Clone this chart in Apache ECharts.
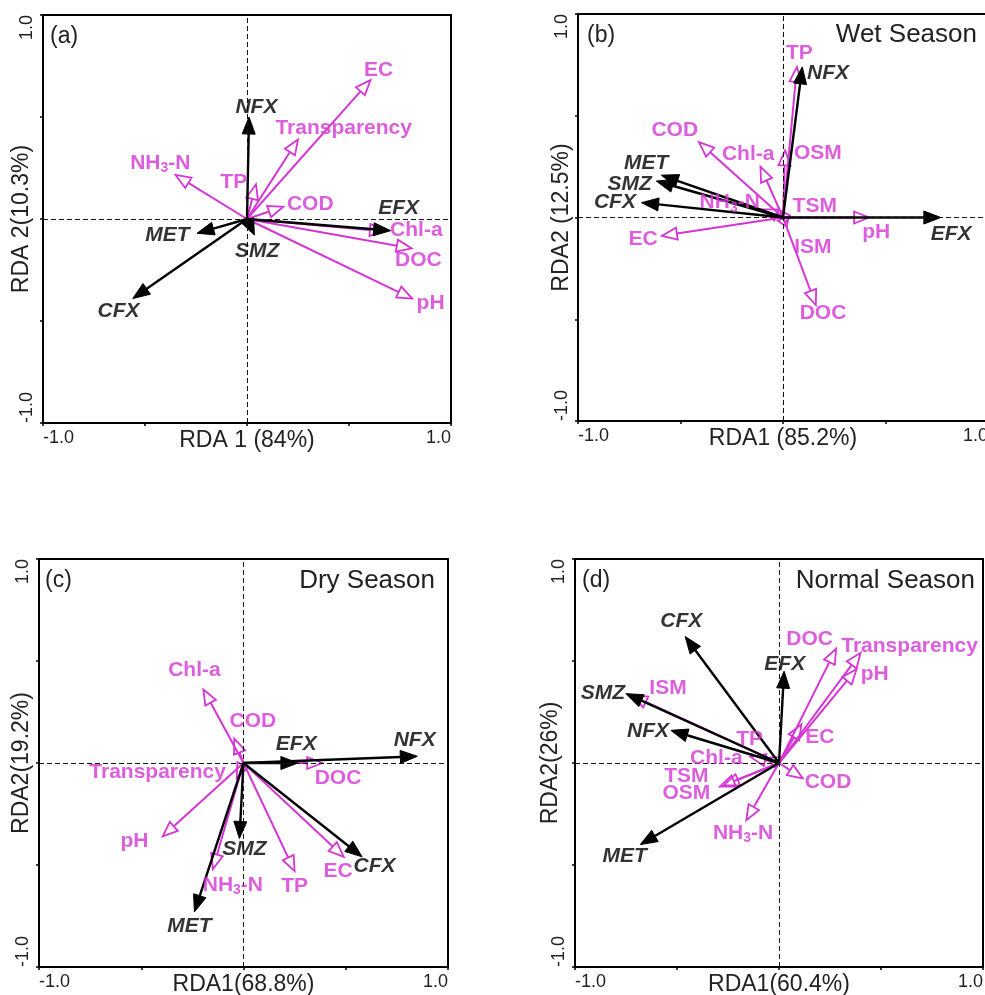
<!DOCTYPE html>
<html><head><meta charset="utf-8">
<script src="https://cdn.jsdelivr.net/npm/echarts@6/dist/echarts.min.js"></script>
<style>html,body{margin:0;padding:0;background:#fff}#c{width:985px;height:995px}</style>
</head><body><div id="c"></div><script>
// ---------- DATA ----------
const panelTags = ['(a)', '(b)', '(c)', '(d)'];
const seasonTitles = ['', 'Wet Season', 'Dry Season', 'Normal Season'];
const xAxisNames = ['RDA 1 (84%)', 'RDA1 (85.2%)', 'RDA1(68.8%)', 'RDA1(60.4%)'];
const yAxisNames = ['RDA 2(10.3%)', 'RDA2 (12.5%)', 'RDA2(19.2%)', 'RDA2(26%)'];
const tickLabels = ['-1.0', '1.0'];

// antibiotics (black arrows): [name, RDA1, RDA2]
const antibioticsA = [['NFX', 0.01, 0.50], ['EFX', 0.704, -0.057], ['MET', -0.245, -0.07], ['SMZ', 0.036, -0.078], ['CFX', -0.56, -0.39]];
const antibioticsB = [['NFX', 0.094, 0.74], ['MET', -0.593, 0.208], ['SMZ', -0.618, 0.179], ['CFX', -0.69, 0.073], ['EFX', 0.77, 0.0]];
const antibioticsC = [['EFX', 0.266, 0.0], ['NFX', 0.85, 0.033], ['SMZ', -0.02, -0.37], ['MET', -0.24, -0.73], ['CFX', 0.58, -0.46]];
const antibioticsD = [['CFX', -0.46, 0.62], ['EFX', 0.025, 0.45], ['SMZ', -0.75, 0.34], ['NFX', -0.53, 0.16], ['MET', -0.68, -0.40]];

// environmental factors (magenta arrows): [name, RDA1, RDA2]
const envA = [['EC', 0.605, 0.681], ['Transparency', 0.25, 0.39], ['NH3-N', -0.35, 0.216], ['TP', 0.044, 0.17], ['COD', 0.178, 0.06], ['Chl-a', 0.676, -0.06], ['DOC', 0.807, -0.144], ['pH', 0.81, -0.39]];
const envB = [['TP', 0.068, 0.74], ['COD', -0.41, 0.37], ['Chl-a', -0.11, 0.25], ['OSM', 0.01, 0.33], ['NH3-N', -0.10, 0.04], ['TSM', 0.034, 0.01], ['EC', -0.59, -0.09], ['pH', 0.42, 0.0], ['ISM', 0.018, -0.045], ['DOC', 0.16, -0.43]];
const envC = [['Chl-a', -0.196, 0.36], ['COD', -0.045, 0.12], ['DOC', 0.385, 0.0], ['Transparency', -0.033, -0.075], ['pH', -0.395, -0.36], ['NH3-N', -0.15, -0.52], ['TP', 0.25, -0.53], ['EC', 0.49, -0.46]];
const envD = [['DOC', 0.28, 0.56], ['Transparency', 0.40, 0.54], ['pH', 0.38, 0.46], ['EC', 0.11, 0.19], ['ISM', -0.72, 0.33], ['TP', -0.06, 0.025], ['Chl-a', -0.14, 0.03], ['TSM', -0.29, -0.116], ['OSM', -0.27, -0.11], ['COD', 0.116, -0.075], ['NH3-N', -0.16, -0.28]];

// label anchors in RDA coordinates (same order as above)
const antibioticLabelAtA = [[0.046, 0.55], [0.743, 0.052], [-0.39, -0.078], [0.05, -0.16], [-0.63, -0.454]];
const antibioticLabelAtB = [[0.22, 0.707], [-0.667, 0.268], [-0.748, 0.163], [-0.82, 0.073], [0.82, -0.081]];
const antibioticLabelAtC = [[0.258, 0.09], [0.837, 0.114], [0.005, -0.424], [-0.264, -0.80], [0.641, -0.506]];
const antibioticLabelAtD = [[-0.479, 0.694], [0.028, 0.482], [-0.863, 0.343], [-0.642, 0.155], [-0.757, -0.458]];
const envLabelAtA = [[0.645, 0.73], [0.474, 0.444], [-0.425, 0.273], [-0.065, 0.178], [0.31, 0.074], [0.83, -0.054], [0.84, -0.20], [0.90, -0.413]];
const envLabelAtB = [[0.08, 0.805], [-0.528, 0.43], [-0.17, 0.31], [0.17, 0.317], [-0.26, 0.073], [0.155, 0.057], [-0.683, -0.106], [0.455, -0.073], [0.146, -0.146], [0.195, -0.47]];
const envLabelAtC = [[-0.24, 0.457], [0.046, 0.204], [0.462, -0.073], [-0.42, -0.044], [-0.533, -0.383], [-0.052, -0.6], [0.25, -0.603], [0.462, -0.53]];
const envLabelAtD = [[0.15, 0.605], [0.64, 0.572], [0.469, 0.433], [0.2, 0.126], [-0.544, 0.368], [-0.144, 0.118], [-0.307, 0.025], [-0.454, -0.065], [-0.454, -0.147], [0.24, -0.095], [-0.176, -0.343]];

// ---------- STYLE / LAYOUT ----------
const MAG = '#d436d4';
const grids = [
  {left: 43, top: 15, width: 408, height: 408},
  {left: 578, top: 14, width: 410, height: 407},
  {left: 39, top: 559, width: 409, height: 408},
  {left: 575, top: 559, width: 408, height: 408}
];
const tagPos = [{left: 50, top: 25}, {left: 587, top: 24}, {left: 45, top: 569}, {left: 582, top: 569}];
const seasonPos = [null, {right: 8, top: 22}, {right: 550, top: 568}, {right: 10, top: 568}];
const yNameGap = [10, 5, 6, 13];

const panels = [
  [antibioticsA, envA, antibioticLabelAtA, envLabelAtA],
  [antibioticsB, envB, antibioticLabelAtB, envLabelAtB],
  [antibioticsC, envC, antibioticLabelAtC, envLabelAtC],
  [antibioticsD, envD, antibioticLabelAtD, envLabelAtD]
];

function arrowRender(color, filled, headLen, headHalf, lw) {
  return function (params, api) {
    const o = api.coord([0, 0]);
    const t = api.coord([api.value(0), api.value(1)]);
    const dx = t[0] - o[0], dy = t[1] - o[1];
    const L = Math.hypot(dx, dy) || 1;
    const ux = dx / L, uy = dy / L;
    const hl = Math.min(headLen, L * 0.9);
    const bx = t[0] - ux * hl, by = t[1] - uy * hl;
    const px = -uy * headHalf, py = ux * headHalf;
    return {
      type: 'group', children: [
        {type: 'line', shape: {x1: o[0], y1: o[1], x2: bx, y2: by}, style: {stroke: color, lineWidth: lw}},
        {type: 'polygon', shape: {points: [[t[0], t[1]], [bx + px, by + py], [bx - px, by - py]]},
          style: {fill: filled ? color : 'rgba(255,255,255,0)', stroke: color, lineWidth: filled ? 1 : 1.8, lineJoin: 'miter'}}
      ]
    };
  };
}

const FONT = 'Liberation Sans, Arial, sans-serif';
function labelRich(color, italic) {
  const base = {fontSize: 21, fontWeight: 'bold', fontStyle: italic ? 'italic' : 'normal', color: color, fontFamily: FONT, lineHeight: 24};
  return {n: base, s: Object.assign({}, base, {fontSize: 14, lineHeight: 10, verticalAlign: 'bottom'})};
}
function fmtName(p) {
  const nm = p.value[2];
  if (nm === 'NH3-N') return '{n|NH}{s|3}{n|-N}';
  return '{n|' + nm + '}';
}

const option = {animation: false, backgroundColor: '#fff', grid: [], xAxis: [], yAxis: [], series: [], title: []};

panels.forEach((pn, i) => {
  const [ab, env, abL, envL] = pn;
  option.grid.push(Object.assign({show: true, borderColor: '#000', borderWidth: 2, containLabel: false, outerBoundsMode: 'none'}, grids[i]));
  const axisCommon = {
    gridIndex: i, type: 'value', min: -1, max: 1, interval: 0.5,
    nameLocation: 'middle', nameMoveOverlap: false,
    axisLine: {onZero: false, lineStyle: {color: '#000', width: 2}},
    axisTick: {show: true, length: 3, lineStyle: {color: '#000', width: 1.5}},
    splitLine: {show: false}
  };
  option.xAxis.push(Object.assign({}, axisCommon, {
    name: xAxisNames[i], nameGap: 6,
    nameTextStyle: {fontSize: 23, fontFamily: FONT, color: '#222', verticalAlign: 'top'},
    axisLabel: {formatter: v => v === -1 ? tickLabels[0] : (v === 1 ? tickLabels[1] : ''), fontSize: 18, color: '#222', fontFamily: FONT, margin: 6, alignMinLabel: 'left', alignMaxLabel: 'right', showMinLabel: true, showMaxLabel: true}
  }));
  option.yAxis.push(Object.assign({}, axisCommon, {
    name: yAxisNames[i], nameGap: yNameGap[i],
    nameTextStyle: {fontSize: 23, fontFamily: FONT, color: '#222', verticalAlign: 'bottom'},
    axisLabel: {formatter: v => v === -1 ? tickLabels[0] : (v === 1 ? tickLabels[1] : ''), fontSize: 18, color: '#222', fontFamily: FONT, margin: 7, rotate: 90, alignMinLabel: 'left', alignMaxLabel: 'right', showMinLabel: true, showMaxLabel: true}
  }));
  // zero reference lines
  option.series.push({
    type: 'scatter', xAxisIndex: i, yAxisIndex: i, data: [], z: 1, silent: true,
    markLine: {silent: true, symbol: 'none', label: {show: false}, animation: false,
      lineStyle: {color: '#111', type: [5, 3], width: 1},
      data: [{xAxis: 0}, {yAxis: 0}]}
  });
  option.series.push({
    type: 'custom', xAxisIndex: i, yAxisIndex: i, z: 3, silent: true,
    renderItem: arrowRender(MAG, false, 15, 6, 2),
    encode: {x: 0, y: 1},
    data: env.map(d => [d[1], d[2]])
  });
  option.series.push({
    type: 'custom', xAxisIndex: i, yAxisIndex: i, z: 4, silent: true,
    renderItem: arrowRender('#000', true, 17, 6.5, 2.4),
    encode: {x: 0, y: 1},
    data: ab.map(d => [d[1], d[2]])
  });
  option.series.push({
    type: 'scatter', xAxisIndex: i, yAxisIndex: i, z: 5, silent: true, symbolSize: 0,
    data: env.map((d, k) => [envL[k][0], envL[k][1], d[0]]),
    label: {show: true, position: 'inside', formatter: fmtName, rich: labelRich(MAG, false)}
  });
  option.series.push({
    type: 'scatter', xAxisIndex: i, yAxisIndex: i, z: 5, silent: true, symbolSize: 0,
    data: ab.map((d, k) => [abL[k][0], abL[k][1], d[0]]),
    label: {show: true, position: 'inside', formatter: fmtName, rich: labelRich('#000', true)}
  });
  option.title.push(Object.assign({text: panelTags[i], textStyle: {fontSize: 23, fontWeight: 'normal', color: '#222', fontFamily: FONT}, padding: 0}, tagPos[i]));
  if (seasonTitles[i]) {
    option.title.push(Object.assign({text: seasonTitles[i], textStyle: {fontSize: 26, fontWeight: 'normal', color: '#222', fontFamily: FONT}, padding: 0}, seasonPos[i]));
  }
});

const chart = echarts.init(document.getElementById('c'), null, {renderer: 'canvas'});
chart.setOption(option);
</script></body></html>
